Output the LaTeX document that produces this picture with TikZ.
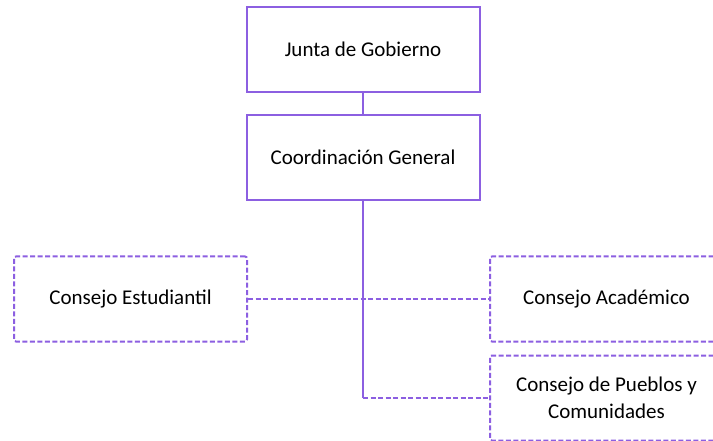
\documentclass[tikz,border=0pt]{standalone}
\usepackage{fontspec}
\setmainfont{Carlito}
\definecolor{boxpurple}{RGB}{140,95,225}
\tikzset{
  solidbox/.style={draw=boxpurple, line width=2pt, minimum width=233pt, minimum height=85pt, inner sep=0pt, align=center, font=\fontsize{21}{27}\selectfont, fill=white},
  dashbox/.style={draw=boxpurple, line width=2pt, dash pattern=on 5pt off 2.5pt, rounded corners=2pt, minimum width=233pt, minimum height=85pt, inner sep=0pt, align=center, font=\fontsize{21}{27}\selectfont, fill=white},
  solidline/.style={draw=boxpurple, line width=2pt},
  dashline/.style={draw=boxpurple, line width=2pt, dash pattern=on 5pt off 2.5pt},
}
\begin{document}
\begin{tikzpicture}[x=1pt,y=-1pt]
\useasboundingbox[fill=white] (0,0) rectangle (713,441);
\node[solidbox] (junta) at (363,49.5) {Junta de Gobierno};
\node[solidbox] (coord) at (363,157.5) {Coordinación General};
\node[dashbox] (estud) at (130.5,299) {Consejo Estudiantil};
\node[dashbox] (acad) at (606.5,299) {Consejo Académico};
\node[dashbox] (pueblos) at (606.5,398) {Consejo de Pueblos y\\Comunidades};
\draw[solidline] (junta) -- (coord);
\coordinate (corner) at (coord.south |- pueblos.west);
\draw[solidline] (coord.south) -- (corner);
\draw[dashline] (corner) -- (pueblos.west);
\draw[dashline] (estud.east) -- (acad.west);
\end{tikzpicture}
\end{document}
